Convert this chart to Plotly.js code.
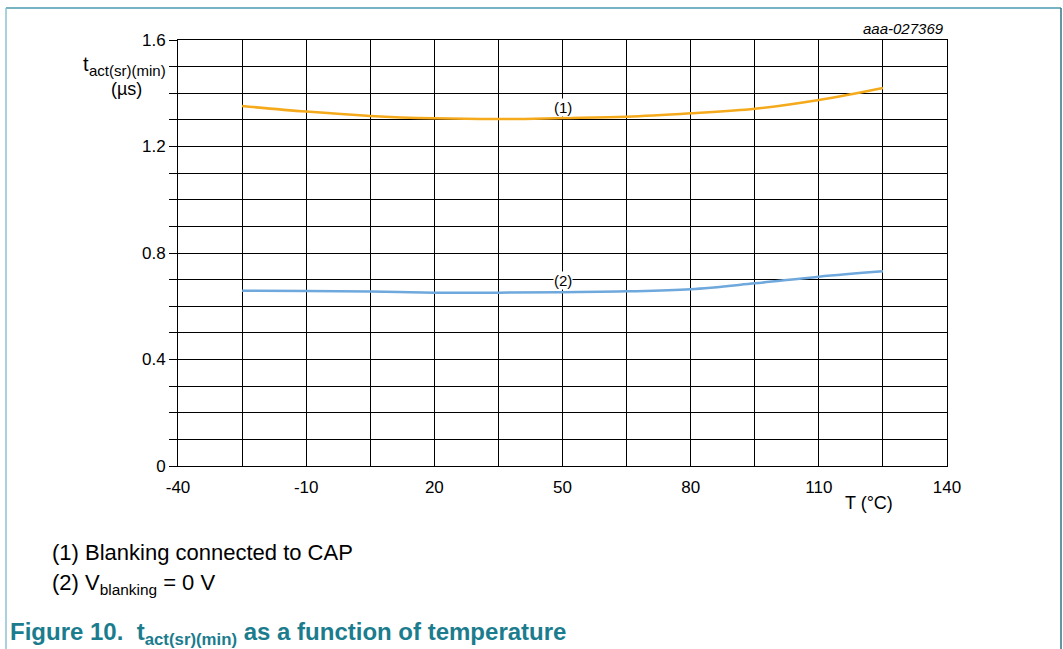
<!DOCTYPE html>
<html>
<head>
<meta charset="utf-8">
<script src="https://cdn.plot.ly/plotly-3.0.1.min.js"></script>
<style>
html,body{margin:0;padding:0;background:#fff;}
#chart{width:1063px;height:649px;}
</style>
</head>
<body>
<div id="chart"></div>
<script>
// Data
const temperature = [-25, -10, 5, 20, 35, 50, 65, 80, 95, 110, 125];
const blankingCap = [1.352, 1.331, 1.315, 1.306, 1.303, 1.307, 1.312, 1.325, 1.342, 1.375, 1.420];
const blankingZero = [0.658, 0.657, 0.655, 0.651, 0.651, 0.653, 0.656, 0.664, 0.686, 0.711, 0.731];
const xTickVals = [-40, -10, 20, 50, 80, 110, 140];
const xTickText = ['-40', '-10', '20', '50', '80', '110', '140'];
const yTickVals = [0, 0.4, 0.8, 1.2, 1.6];
const yTickText = ['0', '0.4', '0.8', '1.2', '1.6'];
const curveLabels = ['(1)', '(2)'];
const noteLines = ['(1) Blanking connected to CAP', '(2) V<sub>blanking</sub> = 0 V'];
const figureCaption = '<b>Figure 10.  t<sub>act(sr)(min)</sub> as a function of temperature</b>';
const figureId = 'aaa-027369';
const xTitle = 'T (°C)';
const yTitleMain = 't';
const yTitleSub = 'act(sr)(min)';
const yTitleUnit = '(µs)';

const W = 1063, H = 649;
const L = 178, R = 947, T = 40, B = 466;
const px = x => (x - L) / (R - L);
const py = y => (B - y) / (B - T);
const font = 'Liberation Sans, Arial, sans-serif';
const teal = '#1B7C8E';

const traces = [
  {x: temperature, y: blankingCap, mode: 'lines', line: {color: '#F5AA1C', width: 2.5, shape: 'spline'}, hoverinfo: 'skip'},
  {x: temperature, y: blankingZero, mode: 'lines', line: {color: '#6FA8DC', width: 2.5, shape: 'spline'}, hoverinfo: 'skip'}
];

const axisCommon = {
  showline: true, linecolor: '#000', linewidth: 1, mirror: true,
  showgrid: true, gridcolor: '#000', gridwidth: 1, zeroline: false,
  tickfont: {family: font, size: 17, color: '#000'}
};

function note(xp, yp, text, size, opts) {
  return Object.assign({x: px(xp), y: py(yp), xref: 'paper', yref: 'paper', xanchor: 'left', yanchor: 'middle',
    text: text, showarrow: false, font: {size: size, family: font, color: '#000'}}, opts || {});
}

const layout = {
  width: W, height: H,
  margin: {l: L, r: W - R, t: T, b: H - B},
  paper_bgcolor: '#fff', plot_bgcolor: '#fff',
  showlegend: false,
  font: {family: font, color: '#000'},
  xaxis: Object.assign({}, axisCommon, {
    range: [-40, 140], tickmode: 'array', tickvals: xTickVals, ticktext: xTickText, ticks: '', ticklabelstandoff: 6,
    minor: {tickmode: 'linear', dtick: 15, tick0: -40, showgrid: true, gridcolor: '#000', gridwidth: 1, ticks: ''}
  }),
  yaxis: Object.assign({}, axisCommon, {
    range: [0, 1.6], tickmode: 'array', tickvals: yTickVals, ticktext: yTickText, ticks: 'outside', ticklen: 8, tickcolor: '#000',
    ticklabelstandoff: 0,
    minor: {tickmode: 'linear', dtick: 0.1, tick0: 0, showgrid: true, gridcolor: '#000', gridwidth: 1, ticks: 'outside', ticklen: 8, tickcolor: '#000'}
  }),
  annotations: [
    {x: 50, y: blankingCap[5], xref: 'x', yref: 'y', text: curveLabels[0], showarrow: false, bgcolor: '#fff', font: {size: 15, family: font}, yshift: 11, borderpad: 0},
    {x: 50, y: blankingZero[5], xref: 'x', yref: 'y', text: curveLabels[1], showarrow: false, bgcolor: '#fff', font: {size: 15, family: font}, yshift: 12, borderpad: 0},
    note(86, 64, yTitleMain, 20, {xanchor: 'center'}),
    note(87, 70, yTitleSub, 15),
    note(126, 89, yTitleUnit, 18, {xanchor: 'center'}),
    note(869, 503, xTitle, 18, {xanchor: 'center'}),
    note(946, 29, '<i>' + figureId + '</i>', 15, {xanchor: 'right'}),
    note(50, 552, noteLines[0], 22),
    note(50, 584, noteLines[1], 22),
    note(8, 633, figureCaption, 24, {font: {size: 24, family: font, color: teal}})
  ],
  shapes: [
    {type: 'line', xref: 'paper', yref: 'paper', x0: px(6), x1: px(1061), y0: py(8), y1: py(8), line: {color: '#4A9AAC', width: 1.5}},
    {type: 'line', xref: 'paper', yref: 'paper', x0: px(6), x1: px(6), y0: py(8), y1: py(649), line: {color: '#8CC3D0', width: 1.5}},
    {type: 'line', xref: 'paper', yref: 'paper', x0: px(1061), x1: px(1061), y0: py(8), y1: py(649), line: {color: '#2C7485', width: 1.5}}
  ]
};

Plotly.newPlot('chart', traces, layout, {staticPlot: true, displayModeBar: false});
</script>
</body>
</html>
